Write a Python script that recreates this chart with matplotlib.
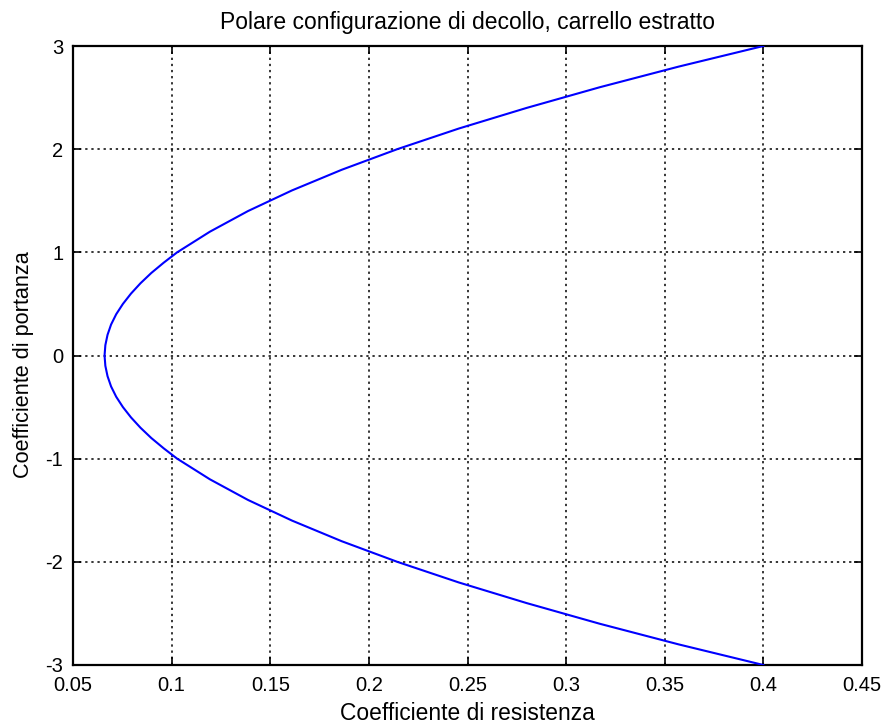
import matplotlib
matplotlib.use("Agg")
from matplotlib import pyplot as plt

# polar curve, CL from +3 down to -3
cl = [3.0, 2.8, 2.6, 2.4, 2.2, 2.0, 1.8, 1.6, 1.4, 1.2, 1.0, 0.9, 0.8, 0.7, 0.6, 0.5, 0.4, 0.3, 0.2, 0.1, 0.0,
      -0.1, -0.2, -0.3, -0.4, -0.5, -0.6, -0.7, -0.8, -0.9, -1.0, -1.2, -1.4, -1.6, -1.8, -2.0, -2.2, -2.4,
      -2.6, -2.8, -3.0]
cd = [0.400, 0.357, 0.317, 0.280, 0.2456, 0.2144, 0.1862, 0.161, 0.1387, 0.1194, 0.1028, 0.096, 0.0897, 0.0842,
      0.0794, 0.0753, 0.0719, 0.0693, 0.0675, 0.0664, 0.066,
      0.0664, 0.0675, 0.0693, 0.0719, 0.0753, 0.0794, 0.0842, 0.0897, 0.096, 0.1028, 0.1194, 0.1387, 0.161,
      0.1862, 0.2144, 0.2456, 0.280, 0.317, 0.357, 0.400]

xticks = [0.05, 0.1, 0.15, 0.2, 0.25, 0.3, 0.35, 0.4, 0.45]
xtick_labels = ["0.05", "0.1", "0.15", "0.2", "0.25", "0.3", "0.35", "0.4", "0.45"]
yticks = [-3, -2, -1, 0, 1, 2, 3]
ytick_labels = ["-3", "-2", "-1", "0", "1", "2", "3"]

plt.rcParams["font.family"] = ["Liberation Sans", "DejaVu Sans"]
plt.rcParams["font.size"] = 14.5

fig = plt.figure(figsize=(8.85, 7.28), dpi=100)
ax = fig.add_axes([73 / 885, 1 - 665 / 728, (862 - 73) / 885, (665 - 46) / 728])

ax.plot(cd, cl, color=(0, 0, 1), linewidth=1.5, zorder=3)

ax.set_xlim(0.05, 0.45)
ax.set_ylim(-3, 3)
ax.set_xticks(xticks)
ax.set_xticklabels(xtick_labels)
ax.set_yticks(yticks)
ax.set_yticklabels(ytick_labels)

ax.grid(True, color="black", linestyle=(0, (1.5, 2.5)), linewidth=1.1)
ax.tick_params(direction="in", length=6, width=1.2, top=True, right=True, pad=7)
ax.tick_params(axis="x", pad=8)
for s in ax.spines.values():
    s.set_linewidth(1.6)

ax.set_xlabel("Coefficiente di resistenza", fontsize=16.4, labelpad=5)
ax.set_ylabel("Coefficiente di portanza", fontsize=15.6)
ax.yaxis.set_label_coords(-0.049, 0.485)
ax.set_title("Polare configurazione di decollo, carrello estratto", fontsize=16.5, pad=12)

plt.savefig("out.png", dpi=100)
